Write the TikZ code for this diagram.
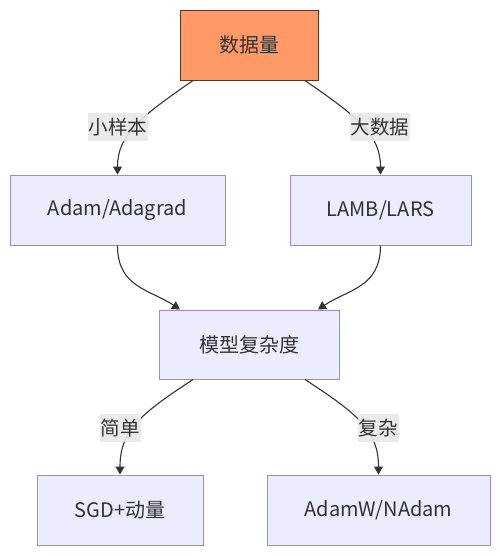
\documentclass[tikz,border=0pt]{standalone}
\usepackage{fontspec}
\setmainfont{Noto Sans CJK SC}
\usetikzlibrary{arrows.meta}
\definecolor{boxfill}{HTML}{ECECFF}
\definecolor{boxline}{HTML}{9F86DB}
\definecolor{orangefill}{HTML}{FF9966}
\definecolor{orangeline}{HTML}{5A3525}
\definecolor{txt}{HTML}{333333}
\definecolor{lblfill}{HTML}{E8E8E8}
\tikzset{
  box/.style={draw=boxline, fill=boxfill, line width=1pt, minimum height=70pt, inner sep=0pt, text=txt, font=\fontsize{20}{22}\selectfont},
  topbox/.style={box, draw=orangeline, fill=orangefill},
  lbl/.style={fill=lblfill, fill opacity=0.9, text opacity=1, inner xsep=1pt, inner ysep=5pt, text=txt, font=\fontsize{19.5}{20}\selectfont},
  edge/.style={draw=txt, line width=1.1pt, -{Triangle[length=8pt,width=9pt]}}
}
\begin{document}
\begin{tikzpicture}[x=1pt,y=-1pt]
\useasboundingbox (0,0) rectangle (500,555);
\node[topbox, minimum width=138pt] (data) at (249,45) {数据量};
\node[box, minimum width=215pt] (adam) at (117.5,210) {Adam/Adagrad};
\node[box, minimum width=181pt] (lamb) at (380.5,210) {LAMB/LARS};
\node[box, minimum width=180pt, minimum height=69pt] (model) at (249,344.5) {模型复杂度};
\node[box, minimum width=166pt] (sgd) at (120,510) {SGD+动量};
\node[box, minimum width=223pt] (adamw) at (378.5,510) {AdamW/NAdam};

\draw[edge] ([xshift=-56pt]data.south) .. controls +(-52,36) and +(0,-40) .. (adam.north);
\draw[edge] ([xshift=56pt]data.south) .. controls +(52,36) and +(0,-40) .. (lamb.north);
\draw[edge] (adam.south) .. controls +(0,42) and +(-30,-20) .. ([xshift=-69pt]model.north);
\draw[edge] (lamb.south) .. controls +(0,42) and +(30,-20) .. ([xshift=69pt]model.north);
\draw[edge] ([xshift=-56pt]model.south) .. controls +(-52,34) and +(0,-44) .. (sgd.north);
\draw[edge] ([xshift=56pt]model.south) .. controls +(52,34) and +(0,-44) .. (adamw.north);

\node[lbl] (l1) at (118,127) {小样本};
\node[lbl] (l2) at (380,127) {大数据};
\node[lbl] (l3) at (120,428) {简单};
\node[lbl] (l4) at (378,428) {复杂};
\end{tikzpicture}
\end{document}
